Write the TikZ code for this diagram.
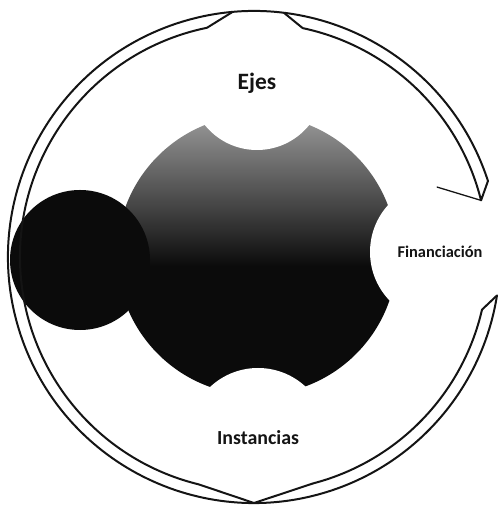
\documentclass[tikz,border=0pt]{standalone}
\usepackage{fontspec}
\setmainfont{Carlito}
\usepackage{xcolor}
\definecolor{coregray}{HTML}{9A9A9A}
\definecolor{coreblack}{HTML}{0B0B0B}
\definecolor{inkline}{HTML}{141414}
\pgfdeclareverticalshading{coreshade}{100bp}{color(0bp)=(coreblack); color(48bp)=(coreblack); color(60bp)=(coregray!45!coreblack); color(75bp)=(coregray); color(100bp)=(coregray)}

\begin{document}
\begin{tikzpicture}[x=0.03cm, y=0.03cm,
    bubble/.style={circle, fill=white, inner sep=0pt, font=\bfseries, text=inkline},
    bandline/.style={draw=inkline, line width=1.7pt, line join=round, line cap=round}]
    \clip (0,0) rectangle (499,508);
    \fill[white] (0,0) rectangle (499,508);

    \node[circle, minimum size=8.4cm, shading=coreshade] (core) at (257,253) {};

    \node[bubble, minimum size=4.02cm] (ejes) at (257,425) {\fontsize{20}{24}\selectfont Ejes};
    \node[bubble, minimum size=4.2cm] (instancias) at (258,70) {\fontsize{17}{20}\selectfont Instancias};
    \node[bubble, minimum size=4.2cm] (financiacion) at (440,256) {\fontsize{14}{17}\selectfont Financiación};
    \node[circle, minimum size=4.2cm, fill=coreblack] (izq) at (80,248) {};

    \begin{scope}[shift={(254,251)}]
        \draw[bandline] (18:246) arc[start angle=18, end angle=351, radius=246];
        \draw[bandline] (18:246) -- (14:234) arc[start angle=14, end angle=78, radius=234] -- (83:246);
        \draw[bandline] (95:246) -- (101.6:234) arc[start angle=101.6, end angle=256.3, radius=234] -- (270:246);
        \draw[bandline] (270:246) -- (284.7:234) arc[start angle=284.7, end angle=347, radius=234] -- (351:246);
        \draw[bandline, line width=1.1pt] (14:234) -- (20.9:196);
    \end{scope}
\end{tikzpicture}
\end{document}
